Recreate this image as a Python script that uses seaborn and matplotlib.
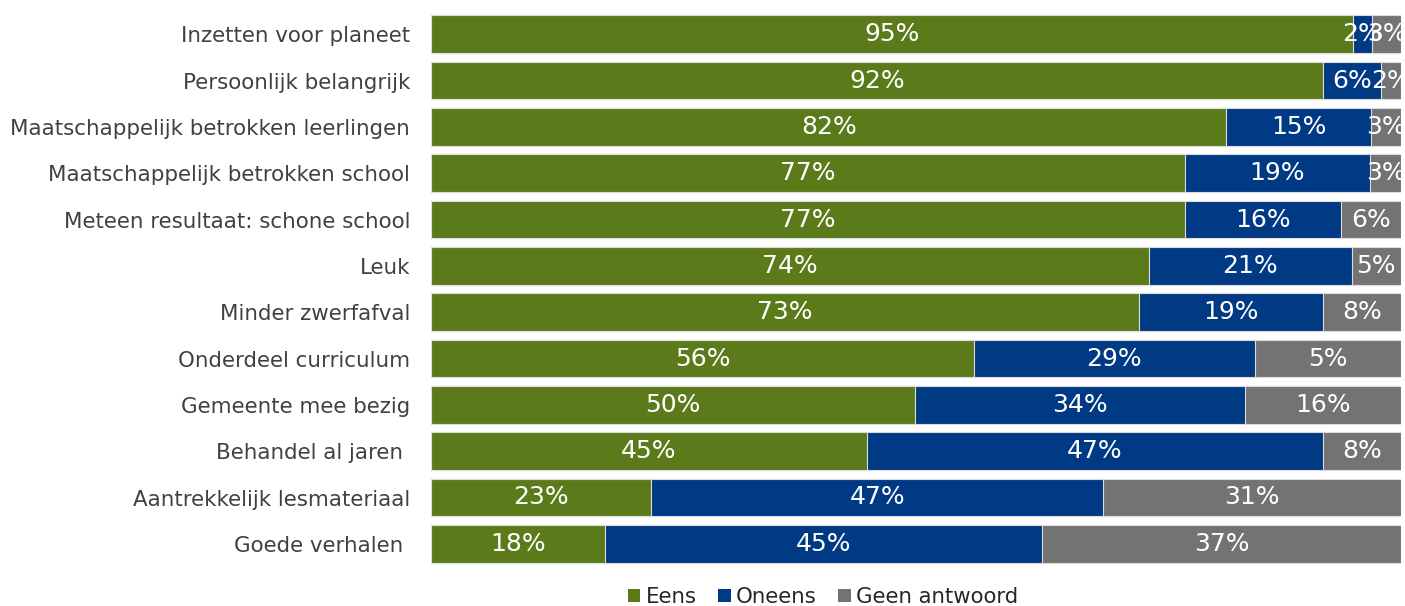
import numpy as np
import pandas as pd
import matplotlib
matplotlib.use("Agg")
import matplotlib.pyplot as plt
import seaborn as sns
from matplotlib.patches import Patch

categories = [
    "Inzetten voor planeet",
    "Persoonlijk belangrijk",
    "Maatschappelijk betrokken leerlingen",
    "Maatschappelijk betrokken school",
    "Meteen resultaat: schone school",
    "Leuk",
    "Minder zwerfafval",
    "Onderdeel curriculum",
    "Gemeente mee bezig",
    "Behandel al jaren ",
    "Aantrekkelijk lesmateriaal",
    "Goede verhalen ",
]
# segment widths (percent of respondents)
eens = [95.0, 92.0, 82.0, 77.7, 77.7, 74.0, 73.0, 56.0, 49.9, 44.9, 22.7, 17.9]
oneens = [2.0, 5.9, 14.9, 19.1, 16.1, 20.9, 19.0, 28.9, 34.0, 47.1, 46.6, 45.1]
geen = [3.0, 2.1, 3.1, 3.2, 6.2, 5.1, 8.0, 15.1, 16.1, 8.0, 30.7, 37.0]
# printed data labels
eens_labels = ["95%", "92%", "82%", "77%", "77%", "74%", "73%", "56%", "50%", "45%", "23%", "18%"]
oneens_labels = ["2%", "6%", "15%", "19%", "16%", "21%", "19%", "29%", "34%", "47%", "47%", "45%"]
geen_labels = ["3%", "2%", "3%", "3%", "6%", "5%", "8%", "5%", "16%", "8%", "31%", "37%"]
series_names = ["Eens", "Oneens", "Geen antwoord"]
colors = ["#5b7b1b", "#003984", "#737373"]

sns.set_style("white")
plt.rcParams["font.family"] = ["DejaVu Sans"]

df = pd.DataFrame({"cat": categories, "Eens": eens, "Oneens": oneens, "Geen": geen})
df["c1"] = df["Eens"]
df["c2"] = df["Eens"] + df["Oneens"]
df["c3"] = df["c2"] + df["Geen"]

fig = plt.figure(figsize=(14.05, 6.06), dpi=100)
ax = fig.add_axes([431 / 1405, 1 - 567 / 606, 970 / 1405, 556 / 606])

for col, color in zip(["c3", "c2", "c1"], colors[::-1]):
    sns.barplot(data=df, x=col, y="cat", orient="h", color=color, saturation=1,
                width=0.82, edgecolor="#dcdcdc", linewidth=0.8, ax=ax)

for i in range(len(categories)):
    lefts = [0, df["c1"][i], df["c2"][i]]
    vals = [eens[i], oneens[i], geen[i]]
    labs = [eens_labels[i], oneens_labels[i], geen_labels[i]]
    for l, v, t in zip(lefts, vals, labs):
        ax.text(l + v / 2, i, t, ha="center", va="center", color="white", fontsize=18,
                clip_on=False)

ax.set_xlim(0, 100)
ax.set_ylim(len(categories) - 0.5, -0.5)
ax.set_xlabel("")
ax.set_ylabel("")
ax.set_xticks([])
ax.tick_params(axis="y", length=0, pad=15, labelsize=15.4, labelcolor="#404040")
for s in ax.spines.values():
    s.set_visible(False)

handles = [Patch(facecolor=c, edgecolor="none", label=n) for c, n in zip(colors, series_names)]
fig.legend(handles=handles, loc="center", bbox_to_anchor=(823 / 1405, 1 - 597 / 606), ncol=3,
           frameon=False, fontsize=15.3, handlelength=0.6, handleheight=0.6,
           handletextpad=0.25, columnspacing=1.0, borderaxespad=0)

fig.savefig("out.png", dpi=100)
